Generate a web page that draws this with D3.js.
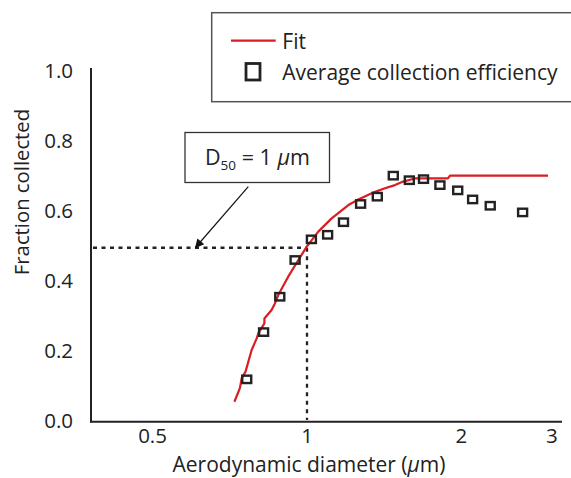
<!DOCTYPE html>
<html><head><meta charset="utf-8">
<script src="https://cdn.jsdelivr.net/npm/d3@7"></script>
<style>body{margin:0;background:#fff}svg{display:block}</style>
</head><body>
<script>
// Measured data: average collection efficiency
const diameter   = [0.763, 0.823, 0.885, 0.948, 1.020, 1.097, 1.178, 1.272, 1.371, 1.473, 1.583, 1.687, 1.816, 1.967, 2.103, 2.276, 2.632];
const efficiency = [0.119, 0.254, 0.355, 0.460, 0.519, 0.532, 0.568, 0.620, 0.641, 0.701, 0.688, 0.691, 0.674, 0.659, 0.633, 0.615, 0.596];
// Fit curve
const fitDiameter = [0.722, 0.740, 0.746, 0.759, 0.780, 0.798, 0.804, 0.826, 0.826, 0.853, 0.866, 0.879, 0.918, 0.962, 0.999, 1.052, 1.117, 1.204, 1.259, 1.337, 1.419, 1.484, 1.540, 1.623, 1.883, 1.900, 2.950];
const fitFraction = [0.055, 0.094, 0.122, 0.141, 0.203, 0.236, 0.251, 0.279, 0.293, 0.317, 0.336, 0.360, 0.411, 0.460, 0.498, 0.541, 0.579, 0.617, 0.633, 0.651, 0.665, 0.674, 0.684, 0.693, 0.693, 0.701, 0.701];
const xTicks = [0.5, 1, 2, 3];
const xTickLabels = ["0.5", "1", "2", "3"];
const yTicks = [0, 0.2, 0.4, 0.6, 0.8, 1.0];
const d50 = 1;
const d50Fraction = 0.495;
const legendLabels = ["Fit", "Average collection efficiency"];

const W = 571, H = 478;
const ink = "#222", red = "#d81e24";
const font = "'Open Sans', 'Liberation Sans', Arial, sans-serif";

const svg = d3.select("body").append("svg").attr("width", W).attr("height", H)
  .style("font-family", font);

const x = d3.scaleLog().domain([0.3776, 3.141]).range([90, 562]);
const y = d3.scaleLinear().domain([0, 1]).range([421, 71]);

// Axes lines
svg.append("line").attr("x1", 91).attr("x2", 91).attr("y1", 68).attr("y2", 422.5)
  .attr("stroke", ink).attr("stroke-width", 2);
svg.append("line").attr("x1", 90).attr("x2", 562).attr("y1", 421.7).attr("y2", 421.7)
  .attr("stroke", ink).attr("stroke-width", 2);

// y tick labels
svg.append("g").selectAll("text").data(yTicks).join("text")
  .attr("x", 73).attr("y", d => y(d)).attr("dy", "0.36em")
  .attr("text-anchor", "end").attr("font-size", 20.5).attr("fill", ink)
  .text(d => d.toFixed(1));

// x tick labels
svg.append("g").selectAll("text").data(xTicks).join("text")
  .attr("x", d => x(d)).attr("y", 443)
  .attr("text-anchor", "middle").attr("font-size", 20.5).attr("fill", ink)
  .text((d, i) => xTickLabels[i]);

// axis titles
const xt = svg.append("text").attr("x", 309).attr("y", 472).attr("text-anchor", "middle")
  .attr("font-size", 21).attr("fill", ink);
xt.append("tspan").text("Aerodynamic diameter (");
xt.append("tspan").attr("font-style", "italic").text("\u03bc");
xt.append("tspan").text("m)");

svg.append("text").attr("transform", "translate(29,192) rotate(-90)")
  .attr("text-anchor", "middle").attr("font-size", 20.3).attr("fill", ink)
  .text("Fraction collected");

// dashed D50 guides
svg.append("line").attr("x1", 93).attr("x2", x(d50)).attr("y1", y(d50Fraction)).attr("y2", y(d50Fraction))
  .attr("stroke", ink).attr("stroke-width", 2.3).attr("stroke-dasharray", "4,4.5");
svg.append("line").attr("x1", x(d50)).attr("x2", x(d50)).attr("y1", y(d50Fraction)).attr("y2", 420)
  .attr("stroke", ink).attr("stroke-width", 2.3).attr("stroke-dasharray", "4,4.5");

// fit line
const fitData = fitDiameter.map((d, i) => [d, fitFraction[i]]);
svg.append("path").datum(fitData)
  .attr("d", d3.line().x(d => x(d[0])).y(d => y(d[1])))
  .attr("fill", "none").attr("stroke", red).attr("stroke-width", 2.2).attr("stroke-linejoin", "round");

// squares
svg.append("g").selectAll("rect").data(diameter).join("rect")
  .attr("x", d => x(d) - 4.5).attr("y", (d, i) => y(efficiency[i]) - 3.7)
  .attr("width", 9).attr("height", 7.4)
  .attr("fill", "none").attr("stroke", ink).attr("stroke-width", 2.4);

// annotation box
svg.append("rect").attr("x", 185).attr("y", 132.5).attr("width", 144.5).attr("height", 50)
  .attr("fill", "#fff").attr("stroke", "#333").attr("stroke-width", 1.3);
const ann = svg.append("text").attr("x", 205).attr("y", 164.5).attr("font-size", 21.5).attr("fill", ink);
ann.append("tspan").text("D");
ann.append("tspan").attr("font-size", 13.5).attr("dy", 5).text("50");
ann.append("tspan").attr("dy", -5).text(" = 1 ");
ann.append("tspan").attr("font-style", "italic").text("\u03bc");
ann.append("tspan").text("m");

// arrow
svg.append("defs").append("marker").attr("id", "ah").attr("viewBox", "0 0 10 10")
  .attr("refX", 9).attr("refY", 5).attr("markerWidth", 11).attr("markerHeight", 9)
  .attr("markerUnits", "userSpaceOnUse").attr("orient", "auto")
  .append("path").attr("d", "M0,0 L10,5 L0,10 Z").attr("fill", "#111");
svg.append("line").attr("x1", 248.3).attr("y1", 186.7).attr("x2", 195.5).attr("y2", 247.5)
  .attr("stroke", "#111").attr("stroke-width", 1.2).attr("marker-end", "url(#ah)");

// legend
svg.append("rect").attr("x", 211.7).attr("y", 12.7).attr("width", 400).attr("height", 89)
  .attr("fill", "#fff").attr("stroke", "#555").attr("stroke-width", 1.5);
svg.append("line").attr("x1", 231).attr("x2", 275.7).attr("y1", 40.7).attr("y2", 40.7)
  .attr("stroke", red).attr("stroke-width", 2.2);
svg.append("text").attr("x", 282.3).attr("y", 48.5).attr("font-size", 21).attr("fill", ink).text(legendLabels[0]);
svg.append("rect").attr("x", 246).attr("y", 63.5).attr("width", 14).attr("height", 16.5)
  .attr("fill", "none").attr("stroke", ink).attr("stroke-width", 2.8);
svg.append("text").attr("x", 282.3).attr("y", 79.5).attr("font-size", 21).attr("fill", ink).text(legendLabels[1]);
</script>
</body></html>
